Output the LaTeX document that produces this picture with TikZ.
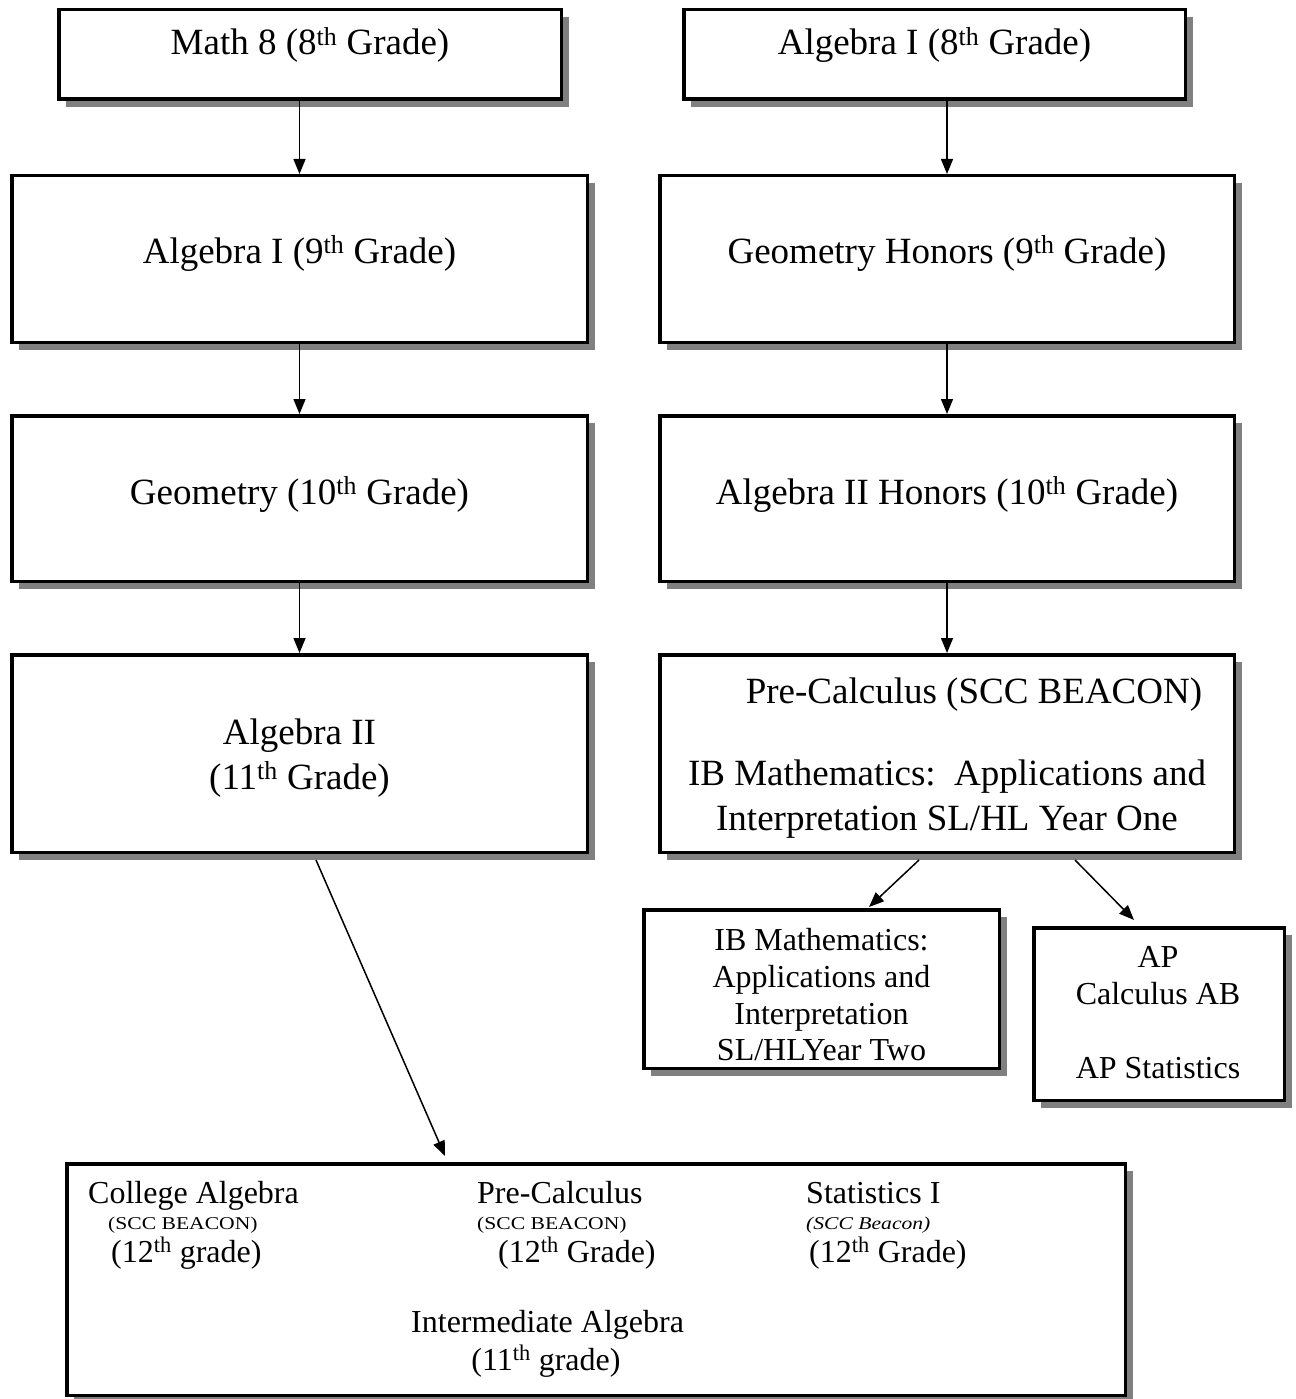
\documentclass[tikz,border=0pt]{standalone}
\usepackage{fontspec}
\setmainfont{Liberation Serif}
\usepackage{graphicx}
\usetikzlibrary{arrows.meta,shadows}
\begin{document}
\begin{tikzpicture}[x=1pt,y=-1pt,
 box/.style={draw=black, line width=3.5pt, fill=white, rectangle, inner sep=0pt,
   drop shadow={shadow xshift=7.5pt, shadow yshift=-7.5pt, fill=black!50, opacity=1}},
 big/.style={anchor=base, inner sep=0pt, font=\fontsize{37}{42}\selectfont},
 med/.style={anchor=base, inner sep=0pt, font=\fontsize{32}{37}\selectfont},
 lft/.style={anchor=base west, inner sep=0pt, font=\fontsize{32}{37}\selectfont},
 tiny/.style={anchor=base west, inner sep=0pt, font=\fontsize{18}{20}\selectfont},
 arr/.style={line width=1.5pt, -{Triangle[length=15pt,width=12pt]}}]
\useasboundingbox (0,0) rectangle (1295,1399);

% boxes
\node[box, minimum width=502.5pt, minimum height=89.5pt] (m8) at (310,54.5) {};
\node[box, minimum width=501.5pt, minimum height=89.5pt] (a8) at (934.5,54.5) {};
\node[box, minimum width=575.5pt, minimum height=166.5pt] (L2) at (299.5,259) {};
\node[box, minimum width=574.5pt, minimum height=166.5pt] (R2) at (947,259) {};
\node[box, minimum width=575.5pt, minimum height=165.5pt] (L3) at (299.5,498.5) {};
\node[box, minimum width=574.5pt, minimum height=165.5pt] (R3) at (947,498.5) {};
\node[box, minimum width=575.5pt, minimum height=197.5pt] (L4) at (299.5,753.5) {};
\node[box, minimum width=574.5pt, minimum height=197.5pt] (R4) at (947,753.5) {};
\node[box, minimum width=355.5pt, minimum height=158.5pt] (IB2) at (821.5,989) {};
\node[box, minimum width=250.5pt, minimum height=172.5pt] (AP) at (1159,1014) {};
\node[box, minimum width=1058.5pt, minimum height=231.5pt] (bot) at (596,1279.5) {};

% texts
\node[big] (tm8) at (310,55) {Math 8 (8\textsuperscript{th} Grade)};
\node[big] (ta8) at (934.5,55) {Algebra I (8\textsuperscript{th} Grade)};
\node[big] (tL2) at (299.5,263) {Algebra I (9\textsuperscript{th} Grade)};
\node[big] (tR2) at (947,263) {Geometry Honors (9\textsuperscript{th} Grade)};
\node[big] (tL3) at (299.5,504) {Geometry (10\textsuperscript{th} Grade)};
\node[big] (tR3) at (947,504) {Algebra II Honors (10\textsuperscript{th} Grade)};
\node[big] (tL4a) at (299.5,744) {Algebra II};
\node[big] (tL4b) at (299.5,789) {(11\textsuperscript{th} Grade)};
\node[big] (tR4a) at (974,703) {Pre-Calculus (SCC BEACON)};
\node[big] (tR4b) at (947,785) {IB Mathematics:\ \ Applications and};
\node[big] (tR4c) at (947,830) {Interpretation SL/HL Year One};

\node[med] (tIBa) at (821.5,950) {IB Mathematics:};
\node[med] (tIBb) at (821.5,987) {Applications and};
\node[med] (tIBc) at (821.5,1024) {Interpretation};
\node[med] (tIBd) at (821.5,1060) {SL/HLYear Two};

\node[med] (tAPa) at (1158,967) {AP};
\node[med] (tAPb) at (1158,1004) {Calculus AB};
\node[med] (tAPc) at (1158,1078) {AP Statistics};

\node[lft] (tb1) at (88,1203) {College Algebra};
\node[tiny] (tb2) at (108,1229) {\scalebox{1.2}[1]{(SCC BEACON)}};
\node[lft] (tb3) at (111,1262) {(12\textsuperscript{th} grade)};
\node[lft] (tb4) at (477,1203) {Pre-Calculus};
\node[tiny] (tb5) at (477,1229) {\scalebox{1.2}[1]{(SCC BEACON)}};
\node[lft] (tb6) at (498,1262) {(12\textsuperscript{th} Grade)};
\node[lft] (tb7) at (806,1203) {Statistics I};
\node[tiny] (tb8) at (806,1229) {\scalebox{1.2}[1]{\itshape (SCC Beacon)}};
\node[lft] (tb9) at (809,1262) {(12\textsuperscript{th} Grade)};
\node[lft] (tb10) at (411,1332) {Intermediate Algebra};
\node[med] (tb11) at (546,1370) {(11\textsuperscript{th} grade)};

% arrows
\draw[arr] (L2.north |- m8.south) -- (L2.north);
\draw[arr] (R2.north |- a8.south) -- (R2.north);
\draw[arr] (L3.north |- L2.south) -- (L3.north);
\draw[arr] (R3.north |- R2.south) -- (R3.north);
\draw[arr] (L4.north |- L3.south) -- (L4.north);
\draw[arr] (R4.north |- R3.south) -- (R4.north);
\draw[arr] ([xshift=16.5pt,yshift=-6pt]L4.south) -- ([xshift=-151pt,yshift=6pt]bot.north);
\draw[arr] ([xshift=-28pt,yshift=-6pt]R4.south) -- ([xshift=47.5pt,yshift=1pt]IB2.north);
\draw[arr] ([xshift=128pt,yshift=-6pt]R4.south) -- ([xshift=-25pt,yshift=6pt]AP.north);
\end{tikzpicture}
\end{document}
